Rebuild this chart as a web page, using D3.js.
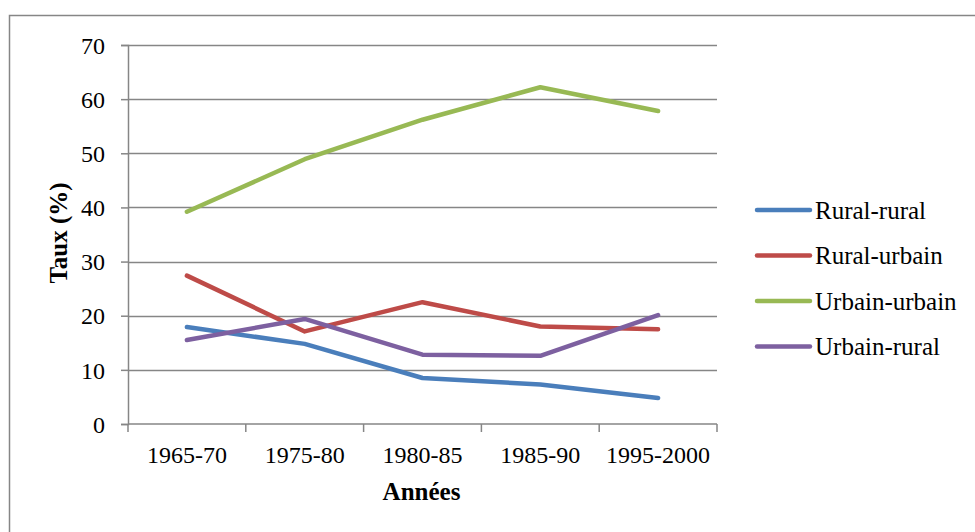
<!DOCTYPE html>
<html>
<head>
<meta charset="utf-8">
<script src="https://cdn.jsdelivr.net/npm/d3@7"></script>
<style>
  body { margin: 0; background: #fff; }
</style>
</head>
<body>
<div id="vis-container"></div>
<script>
(() => {

    // data
    const periods = ["1965-70", "1975-80", "1980-85", "1985-90", "1995-2000"]
    const seriesNames = ["Rural-rural", "Rural-urbain", "Urbain-urbain", "Urbain-rural"]
    const ruralRural = [17.9, 14.8, 8.5, 7.3, 4.8]
    const ruralUrbain = [27.4, 17.1, 22.5, 18.0, 17.5]
    const urbainUrbain = [39.2, 48.9, 56.2, 62.2, 57.8]
    const urbainRural = [15.5, 19.4, 12.8, 12.6, 20.1]
    const yTicks = [0, 10, 20, 30, 40, 50, 60, 70]
    const colors = ["#4A7EBB", "#BE4B48", "#98B954", "#7D60A0"]

    const font = '"Liberation Serif"'

    const series = [ruralRural, ruralUrbain, urbainUrbain, urbainRural]
        .map((values, i) => ({ name: seriesNames[i], values: values, color: colors[i] }))

    // svg setup
    const svgWidth = 975
    const svgHeight = 532
    const margin = { left: 128, top: 45, right: 258, bottom: 108 }
    const width = svgWidth - margin.left - margin.right
    const height = svgHeight - margin.top - margin.bottom

    const root = d3.select('#vis-container')
        .append('svg')
        .attr('width', svgWidth)
        .attr('height', svgHeight)

    // chart border (runs off the right and bottom edges)
    root.append('rect')
        .attr('x', 9.5)
        .attr('y', 15.5)
        .attr('width', 1000)
        .attr('height', 600)
        .attr('fill', 'none')
        .attr('stroke', '#868686')
        .attr('stroke-width', 1.5)

    const svg = root.append('g')
        .attr('transform', `translate(${margin.left},${margin.top})`)

    // scales
    const xScale = d3.scaleBand()
        .domain(periods)
        .range([0, width])

    const yScale = d3.scaleLinear()
        .domain([0, 70])
        .range([height, 0])

    // gridlines
    svg.append('g')
        .selectAll('line')
        .data(yTicks.filter(d => d > 0))
        .join('line')
        .attr('x1', 0)
        .attr('x2', width)
        .attr('y1', d => Math.round(yScale(d)) + 0.5)
        .attr('y2', d => Math.round(yScale(d)) + 0.5)
        .attr('stroke', '#868686')
        .attr('stroke-width', 1.5)

    // axes
    const yAxis = d3.axisLeft(yScale)
        .tickValues(yTicks)
        .tickSize(7)
        .tickPadding(16)

    const yG = svg.append('g').call(yAxis)
    yG.attr('font-family', null).attr('font-size', null)
    yG.select('.domain').attr('stroke', '#868686').attr('stroke-width', 1.5)
    yG.selectAll('.tick line').attr('stroke', '#868686').attr('stroke-width', 1.5)
    yG.selectAll('.tick text')
        .style('font-family', font)
        .style('font-size', '24px')
        .attr('dy', '0.34em')

    const xTickPos = periods.map(p => xScale(p)).concat([width])
    const xG = svg.append('g')
        .attr('transform', `translate(0,${height})`)
    xG.append('line')
        .attr('x1', 0).attr('x2', width)
        .attr('stroke', '#868686').attr('stroke-width', 1.5)
    xG.selectAll('.tk')
        .data(xTickPos)
        .join('line')
        .attr('class', 'tk')
        .attr('x1', d => d).attr('x2', d => d)
        .attr('y1', 0).attr('y2', 8)
        .attr('stroke', '#868686').attr('stroke-width', 1.5)
    xG.selectAll('text')
        .data(periods)
        .join('text')
        .attr('x', d => xScale(d) + xScale.bandwidth() / 2)
        .attr('y', 39)
        .attr('text-anchor', 'middle')
        .style('font-family', font)
        .style('font-size', '24px')
        .text(d => d)

    // axis titles
    svg.append('text')
        .attr('transform', `translate(${67 - margin.left},${233 - margin.top}) rotate(-90)`)
        .attr('text-anchor', 'middle')
        .style('font-family', font)
        .style('font-size', '25px')
        .style('font-weight', 'bold')
        .text('Taux (%)')

    svg.append('text')
        .attr('x', width / 2 - 1)
        .attr('y', 500 - margin.top)
        .attr('text-anchor', 'middle')
        .style('font-family', font)
        .style('font-size', '25px')
        .style('font-weight', 'bold')
        .text('Années')

    // lines
    const line = d3.line()
        .x((d, i) => xScale(periods[i]) + xScale.bandwidth() / 2)
        .y(d => yScale(d))

    svg.append('g')
        .selectAll('path')
        .data(series)
        .join('path')
        .attr('d', d => line(d.values))
        .attr('fill', 'none')
        .attr('stroke', d => d.color)
        .attr('stroke-width', 4.5)
        .attr('stroke-linecap', 'round')
        .attr('stroke-linejoin', 'round')

    // legend
    const legend = root.append('g')
        .selectAll('g')
        .data(series)
        .join('g')
        .attr('transform', (d, i) => `translate(757,${210 + i * 45.5})`)

    legend.append('line')
        .attr('x1', 0).attr('x2', 53)
        .attr('stroke', d => d.color)
        .attr('stroke-width', 4.5)
        .attr('stroke-linecap', 'round')

    legend.append('text')
        .attr('x', 58)
        .attr('dy', '0.34em')
        .style('font-family', font)
        .style('font-size', '25px')
        .text(d => d.name)

})()
</script>
</body>
</html>
